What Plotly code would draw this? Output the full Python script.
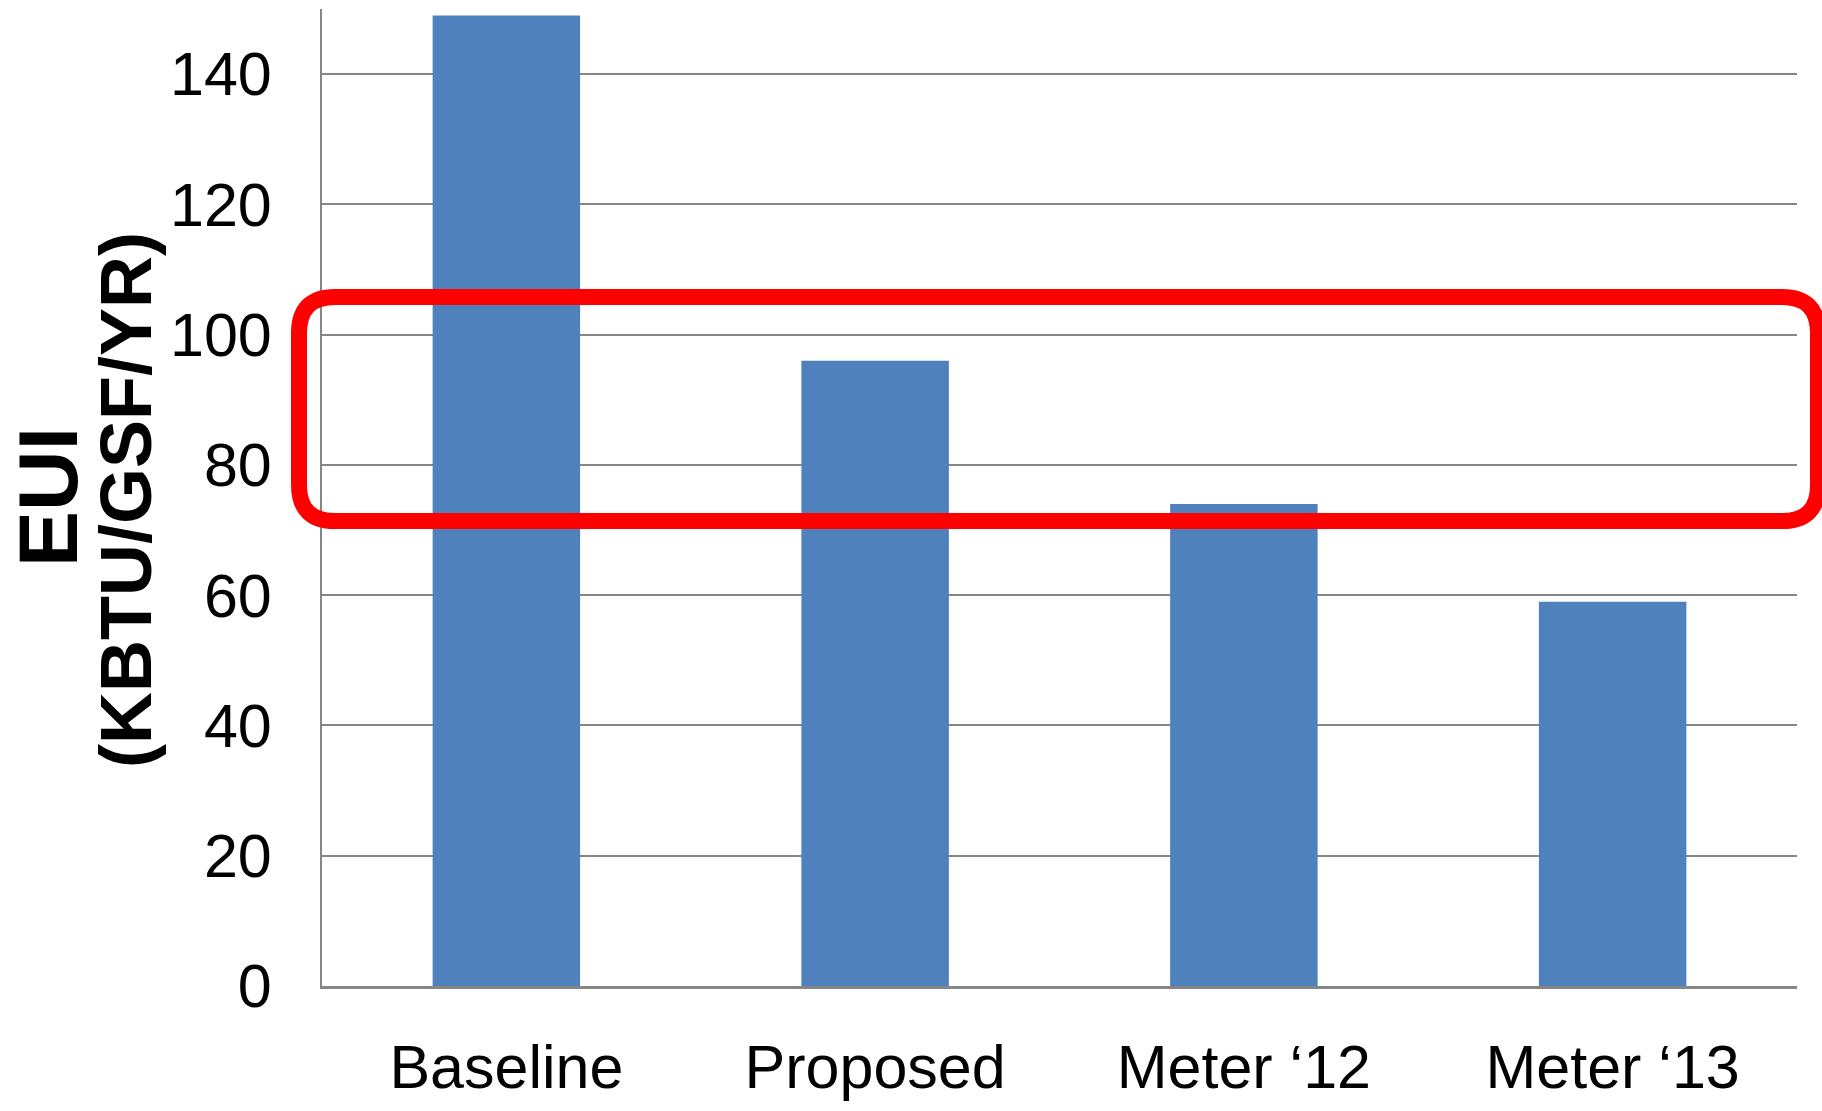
import plotly.graph_objects as go

# Energy use intensity by scenario
categories = ["Baseline", "Proposed", "Meter \u201812", "Meter \u201813"]
eui_values = [149, 96, 74, 59]
y_tick_values = [0, 20, 40, 60, 80, 100, 120, 140]

W, H = 1822, 1111
M_L, M_R, M_T, M_B = 322, 25, 9, 125
PLOT_W = W - M_L - M_R
PLOT_H = H - M_T - M_B

BAR_BLUE = "#4F81BD"
GRID_GREY = "#868686"
SANS = "Liberation Sans, Arial, sans-serif"


def px_to_paper(px, py):
    return (px - M_L) / PLOT_W, 1 - (py - M_T) / PLOT_H


def rounded_rect_path(x0, y0, x1, y1, r):
    def p(x, y):
        X, Y = px_to_paper(x, y)
        return f"{X:.5f},{Y:.5f}"

    return " ".join([
        "M " + p(x0 + r, y0),
        "L " + p(x1 - r, y0),
        "Q " + p(x1, y0) + " " + p(x1, y0 + r),
        "L " + p(x1, y1 - r),
        "Q " + p(x1, y1) + " " + p(x1 - r, y1),
        "L " + p(x0 + r, y1),
        "Q " + p(x0, y1) + " " + p(x0, y1 - r),
        "L " + p(x0, y0 + r),
        "Q " + p(x0, y0) + " " + p(x0 + r, y0),
        "Z",
    ])


fig = go.Figure(
    go.Bar(
        x=categories,
        y=eui_values,
        marker=dict(color=BAR_BLUE, line=dict(width=0)),
        hoverinfo="x+y",
    )
)

fig.update_layout(
    width=W,
    height=H,
    margin=dict(l=M_L, r=M_R, t=M_T, b=M_B, pad=0, autoexpand=False),
    paper_bgcolor="white",
    plot_bgcolor="white",
    bargap=0.6,
    showlegend=False,
    font=dict(family=SANS, color="black"),
)

fig.update_xaxes(
    type="category",
    automargin=False,
    showline=True,
    linecolor=GRID_GREY,
    linewidth=3,
    showgrid=False,
    ticks="",
    ticklabelstandoff=26,
    tickfont=dict(family=SANS, size=61, color="black"),
    zeroline=False,
)

fig.update_yaxes(
    range=[0, 150],
    tickvals=y_tick_values,
    automargin=False,
    showline=True,
    linecolor=GRID_GREY,
    linewidth=2,
    showgrid=True,
    gridcolor=GRID_GREY,
    gridwidth=2,
    zeroline=False,
    ticks="",
    ticklabelstandoff=36,
    tickfont=dict(family=SANS, size=61, color="black"),
)

# Axis title, two lines rotated
ex, ey = px_to_paper(48, 497)
kx, ky = px_to_paper(126, 500)
fig.add_annotation(
    text="<b>EUI</b>", xref="paper", yref="paper", x=ex, y=ey,
    xanchor="center", yanchor="middle", textangle=-90, showarrow=False,
    font=dict(family=SANS, size=84, color="black"),
)
fig.add_annotation(
    text="<b>(KBTU/GSF/YR)</b>", xref="paper", yref="paper", x=kx, y=ky,
    xanchor="center", yanchor="middle", textangle=-90, showarrow=False,
    font=dict(family=SANS, size=72, color="black"),
)

# Red rounded highlight frame
fig.add_shape(
    type="path",
    xref="paper",
    yref="paper",
    path=rounded_rect_path(299, 297, 1818, 521, 36),
    line=dict(color="#FF0000", width=16),
    fillcolor="rgba(0,0,0,0)",
    layer="above",
)

fig.write_html("out.html")
